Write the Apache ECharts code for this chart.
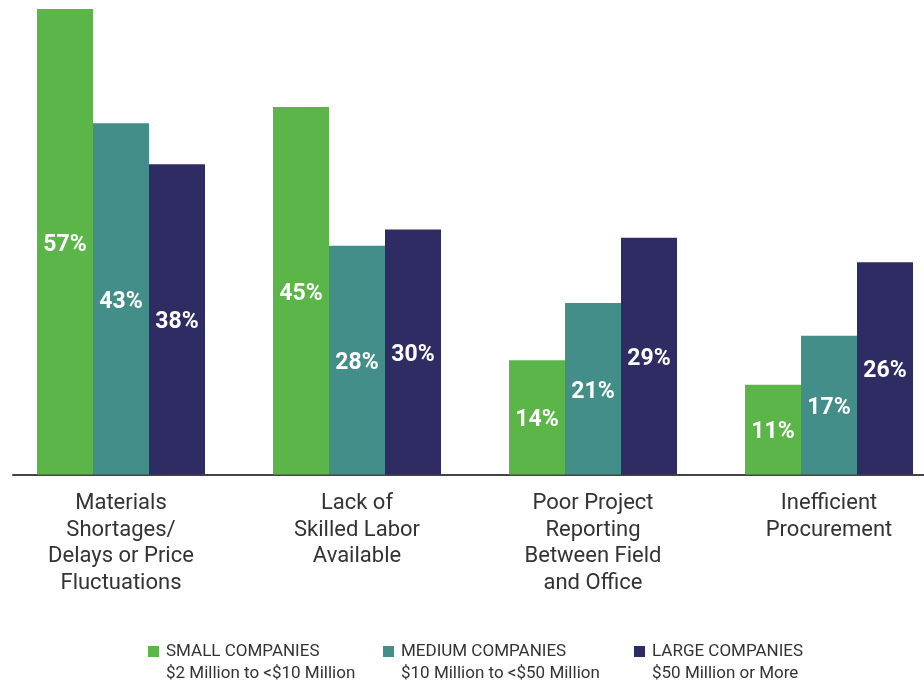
<!DOCTYPE html>
<html>
<head>
<meta charset="utf-8">
<script src="https://cdn.jsdelivr.net/npm/echarts@6/dist/echarts.min.js"></script>
<style>
  html, body { margin: 0; padding: 0; background: #ffffff; }
  #chart { width: 924px; height: 682px; }
</style>
</head>
<body>
<div id="chart"></div>
<script>
// Challenges by company size (% of respondents)
const categories = [
  'Materials\nShortages/\nDelays or Price\nFluctuations',
  'Lack of\nSkilled Labor\nAvailable',
  'Poor Project\nReporting\nBetween Field\nand Office',
  'Inefficient\nProcurement'
];
const seriesNames = ['SMALL COMPANIES', 'MEDIUM COMPANIES', 'LARGE COMPANIES'];
const seriesSubtitles = ['$2 Million to <$10 Million', '$10 Million to <$50 Million', '$50 Million or More'];
const smallValues = [57, 45, 14, 11];
const mediumValues = [43, 28, 21, 17];
const largeValues = [38, 30, 29, 26];
const seriesColors = ['#5bb548', '#448e8a', '#2e2c63'];

const FONT = 'Roboto, "Noto Sans", sans-serif';
const chart = echarts.init(document.getElementById('chart'), null, { renderer: 'canvas' });

const valuesBySeries = [smallValues, mediumValues, largeValues];
const legendLefts = [148, 383, 634];

const series = seriesNames.map((name, i) => ({
  name: name,
  type: 'bar',
  xAxisIndex: 0,
  yAxisIndex: 0,
  data: valuesBySeries[i],
  barWidth: 56,
  barGap: '0%',
  itemStyle: { color: seriesColors[i] },
  label: {
    show: true,
    position: 'inside',
    offset: [0, 3],
    formatter: '{c}%',
    color: '#ffffff',
    fontFamily: FONT,
    fontWeight: 'bold',
    fontSize: 23
  },
  emphasis: { disabled: true }
}));

const option = {
  backgroundColor: '#ffffff',
  animation: false,
  grid: [
    // plotting area runs slightly past the right edge so the last group sits near it
    { left: 3, width: 944, top: 9, bottom: 207.5, containLabel: false, outerBoundsMode: 'none' },
    // separate grid that only carries the baseline rule
    { left: 13, right: 0, top: 9, bottom: 207.5, containLabel: false, outerBoundsMode: 'none' }
  ],
  xAxis: [
    {
      type: 'category',
      gridIndex: 0,
      data: categories,
      axisLine: { show: false },
      axisTick: { show: false },
      axisLabel: {
        interval: 0,
        margin: 16,
        color: '#333333',
        fontFamily: FONT,
        fontSize: 22,
        lineHeight: 26.5,
        align: 'center'
      }
    },
    {
      type: 'value',
      gridIndex: 1,
      min: 0,
      max: 1,
      axisLine: { show: true, lineStyle: { color: '#444444', width: 2 } },
      axisTick: { show: false },
      axisLabel: { show: false },
      splitLine: { show: false }
    }
  ],
  yAxis: [
    { type: 'value', gridIndex: 0, min: 0, max: 57, show: false },
    { type: 'value', gridIndex: 1, min: 0, max: 1, show: false }
  ],
  legend: seriesNames.map((name, i) => ({
    data: [name],
    left: legendLefts[i],
    top: 643,
    padding: 0,
    itemWidth: 11,
    itemHeight: 11,
    itemGap: 0,
    icon: 'rect',
    selectedMode: false,
    formatter: () => '{t|' + seriesNames[i] + '}\n{s|' + seriesSubtitles[i] + '}',
    textStyle: {
      padding: [22, 0, 0, 2],
      rich: {
        t: { fontFamily: FONT, fontSize: 17, lineHeight: 22, color: '#333333' },
        s: { fontFamily: FONT, fontSize: 17, lineHeight: 22, color: '#333333' }
      }
    }
  })),
  series: series
};

chart.setOption(option);
</script>
</body>
</html>
